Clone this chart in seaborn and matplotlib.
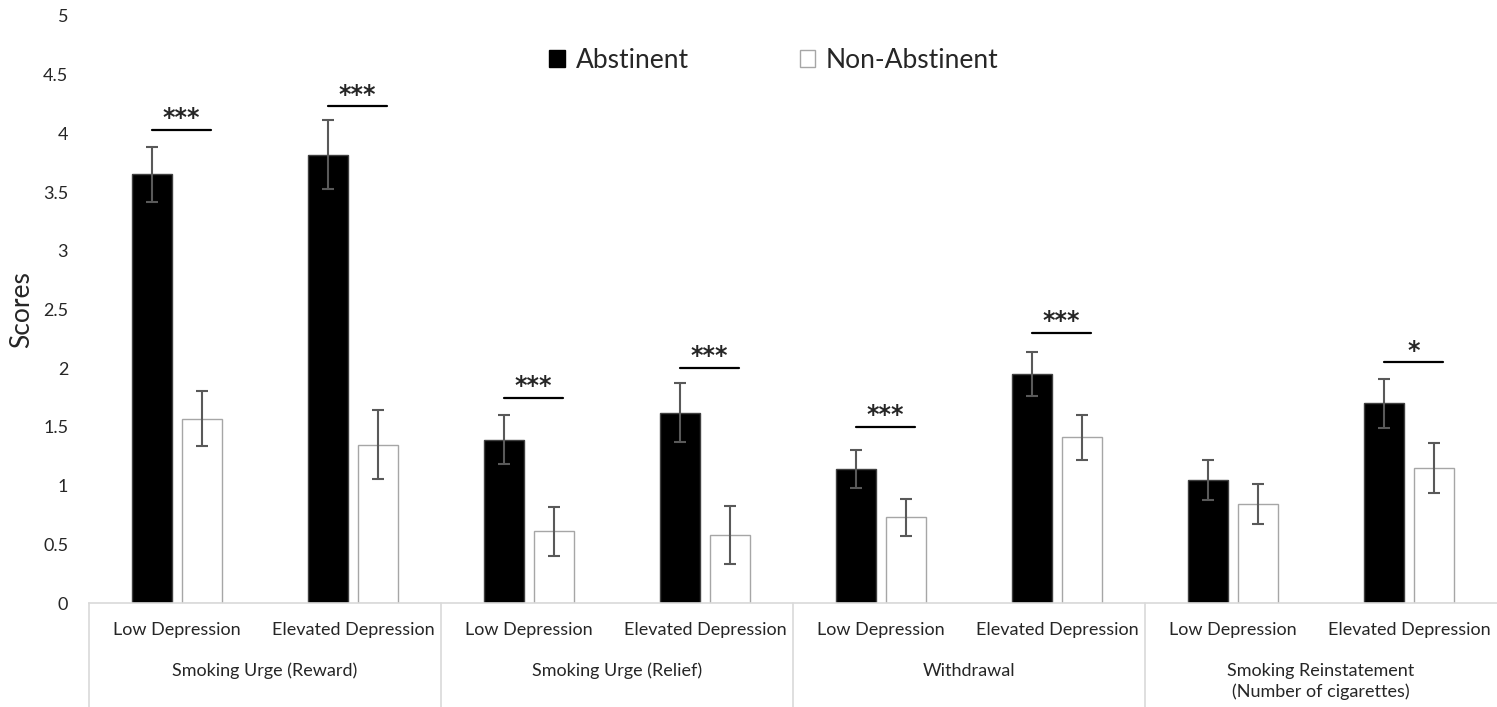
import numpy as np
import pandas as pd
import matplotlib
matplotlib.use("Agg")
import matplotlib.pyplot as plt
from matplotlib.patches import Patch
from matplotlib.lines import Line2D
import seaborn as sns

# ---- data ----
subgroups = ["Low Depression", "Elevated Depression"] * 4
outcomes = ["Smoking Urge (Reward)", "Smoking Urge (Relief)", "Withdrawal",
            "Smoking Reinstatement\n(Number of cigarettes)"]
conditions = ["Abstinent", "Non-Abstinent"]
abstinent = [3.65, 3.82, 1.39, 1.62, 1.14, 1.95, 1.05, 1.70]
non_abstinent = [1.57, 1.35, 0.61, 0.58, 0.73, 1.41, 0.84, 1.15]
abstinent_err = [0.235, 0.29, 0.21, 0.25, 0.16, 0.19, 0.17, 0.21]
non_abstinent_err = [0.235, 0.29, 0.21, 0.25, 0.16, 0.19, 0.17, 0.21]
sig_labels = ["***", "***", "***", "***", "***", "***", "", "*"]
sig_heights = [4.03, 4.23, 1.75, 2.00, 1.50, 2.30, None, 2.05]
yticks = [0, 0.5, 1, 1.5, 2, 2.5, 3, 3.5, 4, 4.5, 5]

sns.set_theme(style="white")
plt.rcParams['font.family'] = ['Lato', 'DejaVu Sans']

slots = [f"g{i}" for i in range(8)]
df = pd.DataFrame({
    "slot": slots * 2,
    "condition": [conditions[0]] * 8 + [conditions[1]] * 8,
    "score": abstinent + non_abstinent,
})

fig = plt.figure(figsize=(14.97, 7.07), dpi=100)
ax = fig.add_axes([89 / 1497, 104 / 707, 1 - 89 / 1497, (603 - 16) / 707])

sns.barplot(data=df, x="slot", y="score", hue="condition", order=slots,
            hue_order=conditions, palette={"Abstinent": "black", "Non-Abstinent": "white"},
            width=0.568, gap=0.2, errorbar=None, legend=False, ax=ax)

# style bars
for p in ax.patches:
    fc = p.get_facecolor()
    if fc[0] < 0.5:
        p.set_edgecolor("#404040")
    else:
        p.set_edgecolor("#a6a6a6")
    p.set_linewidth(1.0)

# error bars from bar centers
bars = sorted(ax.patches, key=lambda p: p.get_x())
centers = [p.get_x() + p.get_width() / 2 for p in bars]
abs_x = centers[0::2]
non_x = centers[1::2]
ax.errorbar(abs_x, abstinent, yerr=abstinent_err, fmt="none", ecolor="#595959",
            elinewidth=1.5, capsize=4, capthick=1.5, zorder=5)
ax.errorbar(non_x, non_abstinent, yerr=non_abstinent_err, fmt="none", ecolor="#595959",
            elinewidth=1.5, capsize=4, capthick=1.5, zorder=5)

# significance
for i, (lab, h) in enumerate(zip(sig_labels, sig_heights)):
    if not lab:
        continue
    x0 = abs_x[i]
    x1 = non_x[i] + 0.05
    ax.plot([x0, x1], [h, h], color="black", lw=1.6)
    ax.text((x0 + x1) / 2, h + 0.1, lab, ha="center", va="center", fontsize=17,
            family="DejaVu Sans", fontweight="bold")

ax.set_ylim(0, 5)
ax.set_xlim(-0.5, 7.5)
ax.set_yticks(yticks)
ax.set_yticklabels([f"{v:g}" for v in yticks], fontsize=13)
ax.tick_params(axis="y", length=0, pad=15)
ax.set_xticks(range(8))
ax.set_xticklabels(subgroups, fontsize=13)
ax.tick_params(axis="x", length=0, pad=14)
ax.set_xlabel("")
ax.set_ylabel("Scores", fontsize=19, labelpad=6)
for s in ["top", "right", "left"]:
    ax.spines[s].set_visible(False)
ax.spines["bottom"].set_color("#d9d9d9")
ax.spines["bottom"].set_linewidth(1.2)

# group labels and separators
trans = ax.get_xaxis_transform()
for k, name in enumerate(outcomes):
    cx = 2 * k + 0.5
    ax.text(cx, -0.102, name, transform=trans, ha="center", va="top", fontsize=13,
            linespacing=1.3)
for b in [-0.5, 1.5, 3.5, 5.5]:
    ax.add_line(Line2D([b, b], [0, -0.2], transform=trans, color="#d9d9d9", lw=1.2,
                       clip_on=False))

handles = [Patch(facecolor="black", edgecolor="black", label="Abstinent"),
           Patch(facecolor="white", edgecolor="#a6a6a6", label="Non-Abstinent")]
fig.legend(handles=handles, loc="center", bbox_to_anchor=(774 / 1497, 1 - 60 / 707), ncol=2,
           frameon=False, fontsize=19, handlelength=0.6, handleheight=0.6,
           handletextpad=0.4, columnspacing=4.2)

fig.savefig("out.png", dpi=100)
